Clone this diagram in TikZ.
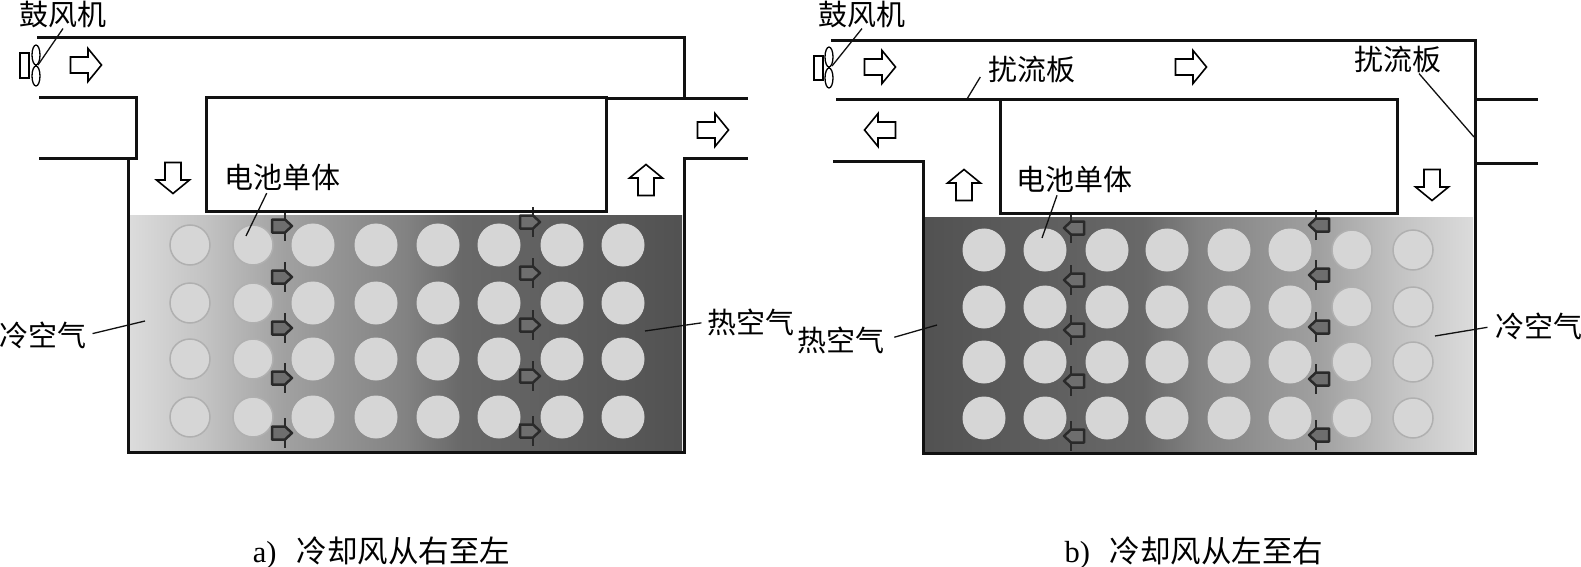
\documentclass[tikz,border=0pt]{standalone}
\usepackage{fontspec}
\setmainfont{Liberation Serif}
\newfontfamily\cjk{Noto Sans CJK SC}

\definecolor{wallcolor}{HTML}{111111}
\definecolor{cellcolor}{HTML}{D6D6D6}
\definecolor{ringcolor}{HTML}{B0B0B0}
\definecolor{heatfill}{HTML}{6E6E6E}
\definecolor{heatline}{HTML}{2A2A2A}

\pgfdeclarehorizontalshading{airflow}{100bp}{
    color(0bp)=(black!14); color(25bp)=(black!14); color(32bp)=(black!24);
    color(39bp)=(black!37); color(50bp)=(black!49); color(55bp)=(black!59);
    color(75bp)=(black!68); color(100bp)=(black!68)}

\tikzset{
    wall/.style={line width=3pt,draw=wallcolor,line join=miter},
    leader/.style={line width=1.3pt,draw=wallcolor},
    labeltext/.style={font=\cjk\fontsize{29}{29}\selectfont,inner sep=0pt,text=black},
    captiontext/.style={font=\fontsize{30.5}{31}\selectfont,inner sep=0pt,text=black},
    flowarrow/.style={line width=1.6pt,draw=black,fill=white,line join=miter},
    heatarrow/.style={line width=2.5pt,draw=heatline,fill=heatfill,line join=round},
    cell/.style={fill=cellcolor,draw=cellcolor,line width=1pt},
    coldcell/.style={fill=cellcolor,draw=ringcolor,line width=1.5pt}
}

\newcommand{\flowarrow}[3]{
    \draw[flowarrow,shift={(#1,#2)},rotate=#3] (-15.5,-8) -- (2,-8) -- (2,-16.5) -- (15.5,0)
    -- (2,16.5) -- (2,8) -- (-15.5,8) -- cycle;
}
\newcommand{\heatarrow}[3]{
    \draw[heatline,line width=2pt,shift={(#1,#2)},rotate=#3] (4,-15) -- (4,15);
    \draw[heatarrow,shift={(#1,#2)},rotate=#3] (-9,-6.5) -- (4,-6.5) -- (11,0) -- (4,6.5)
    -- (-9,6.5) -- cycle;
}

\begin{document}
\begin{tikzpicture}[x=1pt,y=-1pt]
    \useasboundingbox (0,0) rectangle (1581,567);

    % left panel
    \shade[shading=airflow] (130,215) rectangle (682,450);
    \foreach \cx in {190,253}
        \foreach \cy in {245,303,359,417}
            \draw[coldcell] (\cx,\cy) circle (20);
    \foreach \cx in {313,376,438,499,562,623}
        \foreach \cy in {245,303,359,417}
            \draw[cell] (\cx,\cy) circle (21);
    \foreach \cy in {226,277,328,378,433} {\heatarrow{281}{\cy}{0}}
    \foreach \cy in {222,273,325,376,431} {\heatarrow{529}{\cy}{0}}

    \draw[wall] (37,38) -- (684,38) -- (684,98);
    \draw[wall] (39,98) -- (136,98) -- (136,158) -- (39,158);
    \draw[wall] (128,158) -- (128,452) -- (684,452) -- (684,158) -- (748,158);
    \draw[wall] (206,98) rectangle (606,211);
    \draw[wall] (606,99) -- (748,99);

    \draw[line width=1.3pt] (20,53) rectangle (29,78);
    \draw[line width=1.3pt] (36,55) ellipse (4 and 10) (36,76) ellipse (4 and 10);
    \flowarrow{86}{65}{0}
    \flowarrow{173}{178}{270}
    \flowarrow{646}{180}{90}
    \flowarrow{713}{130}{0}

    \node[labeltext] (fanA) at (63,15) {鼓风机};
    \node[labeltext] (cellA) at (282,177) {电池单体};
    \node[labeltext] (coldA) at (43,335) {冷空气};
    \node[labeltext] (hotA) at (751,322) {热空气};
    \coordinate (fanendA) at (38,65);
    \coordinate (cellendA) at (246,236);
    \coordinate (coldendA) at (145,321);
    \coordinate (hotendA) at (645,331);
    \draw[leader] (fanA.south) -- (fanendA);
    \draw[leader,shorten <=3pt] (cellA.south) ++(-14,0) -- (cellendA);
    \draw[leader,shorten <=6pt] (coldA.east) -- (coldendA);
    \draw[leader,shorten <=6pt] (hotA.west) -- (hotendA);
    \node[captiontext] (captionA) at (381.5,553) {a)\hspace{20pt}{\cjk 冷却风从右至左}};

    % right panel
    \shade[shading=airflow,shading angle=180] (925,217) rectangle (1473,451);
    \foreach \cx in {984,1045,1107,1167,1229,1290}
        \foreach \cy in {250,307,362,418}
            \draw[cell] (\cx,\cy) circle (21);
    \foreach \cx in {1352,1413}
        \foreach \cy in {250,307,362,418}
            \draw[coldcell] (\cx,\cy) circle (20);
    \foreach \cy in {228,280,330,381,436} {\heatarrow{1075}{\cy}{180}}
    \foreach \cy in {225,275,327,379,435} {\heatarrow{1320}{\cy}{180}}

    \draw[wall] (831,41) -- (1475,41) -- (1475,453) -- (923,453) -- (923,161) -- (833,161);
    \draw[wall] (836,99.5) -- (1000,99.5);
    \draw[wall] (1000,99.5) rectangle (1397,213);
    \draw[wall] (1475,100) -- (1538,100);
    \draw[wall] (1475,163) -- (1538,163);

    \draw[line width=1.3pt] (814,56) rectangle (823,80);
    \draw[line width=1.3pt] (829,57) ellipse (4 and 10) (829,78) ellipse (4 and 10);
    \flowarrow{880}{67}{0}
    \flowarrow{1191}{67}{0}
    \flowarrow{880}{130}{180}
    \flowarrow{964}{185}{90}
    \flowarrow{1432}{185}{270}

    \node[labeltext] (fanB) at (862,15) {鼓风机};
    \node[labeltext] (plateB) at (1032,70) {扰流板};
    \node[labeltext] (plateC) at (1398,60) {扰流板};
    \node[labeltext] (cellB) at (1074,179) {电池单体};
    \node[labeltext] (hotB) at (841,340) {热空气};
    \node[labeltext] (coldB) at (1539,326) {冷空气};
    \coordinate (fanendB) at (832,66);
    \coordinate (plateendB) at (967,99);
    \coordinate (plateendC) at (1474,137);
    \coordinate (cellendB) at (1042,238);
    \coordinate (hotendB) at (937,325);
    \coordinate (coldendB) at (1435,336);
    \draw[leader] (fanB.south) -- (fanendB);
    \draw[leader] (plateB.west) ++(-8,7) -- (plateendB);
    \draw[leader] (plateC.south) ++(21,0) -- (plateendC);
    \draw[leader,shorten <=3pt] (cellB.south) ++(-16,0) -- (cellendB);
    \draw[leader,shorten <=10pt] (hotB.east) -- (hotendB);
    \draw[leader,shorten <=8pt] (coldB.west) -- (coldendB);
    \node[captiontext] (captionB) at (1194,553) {b)\hspace{20pt}{\cjk 冷却风从左至右}};
\end{tikzpicture}
\end{document}
